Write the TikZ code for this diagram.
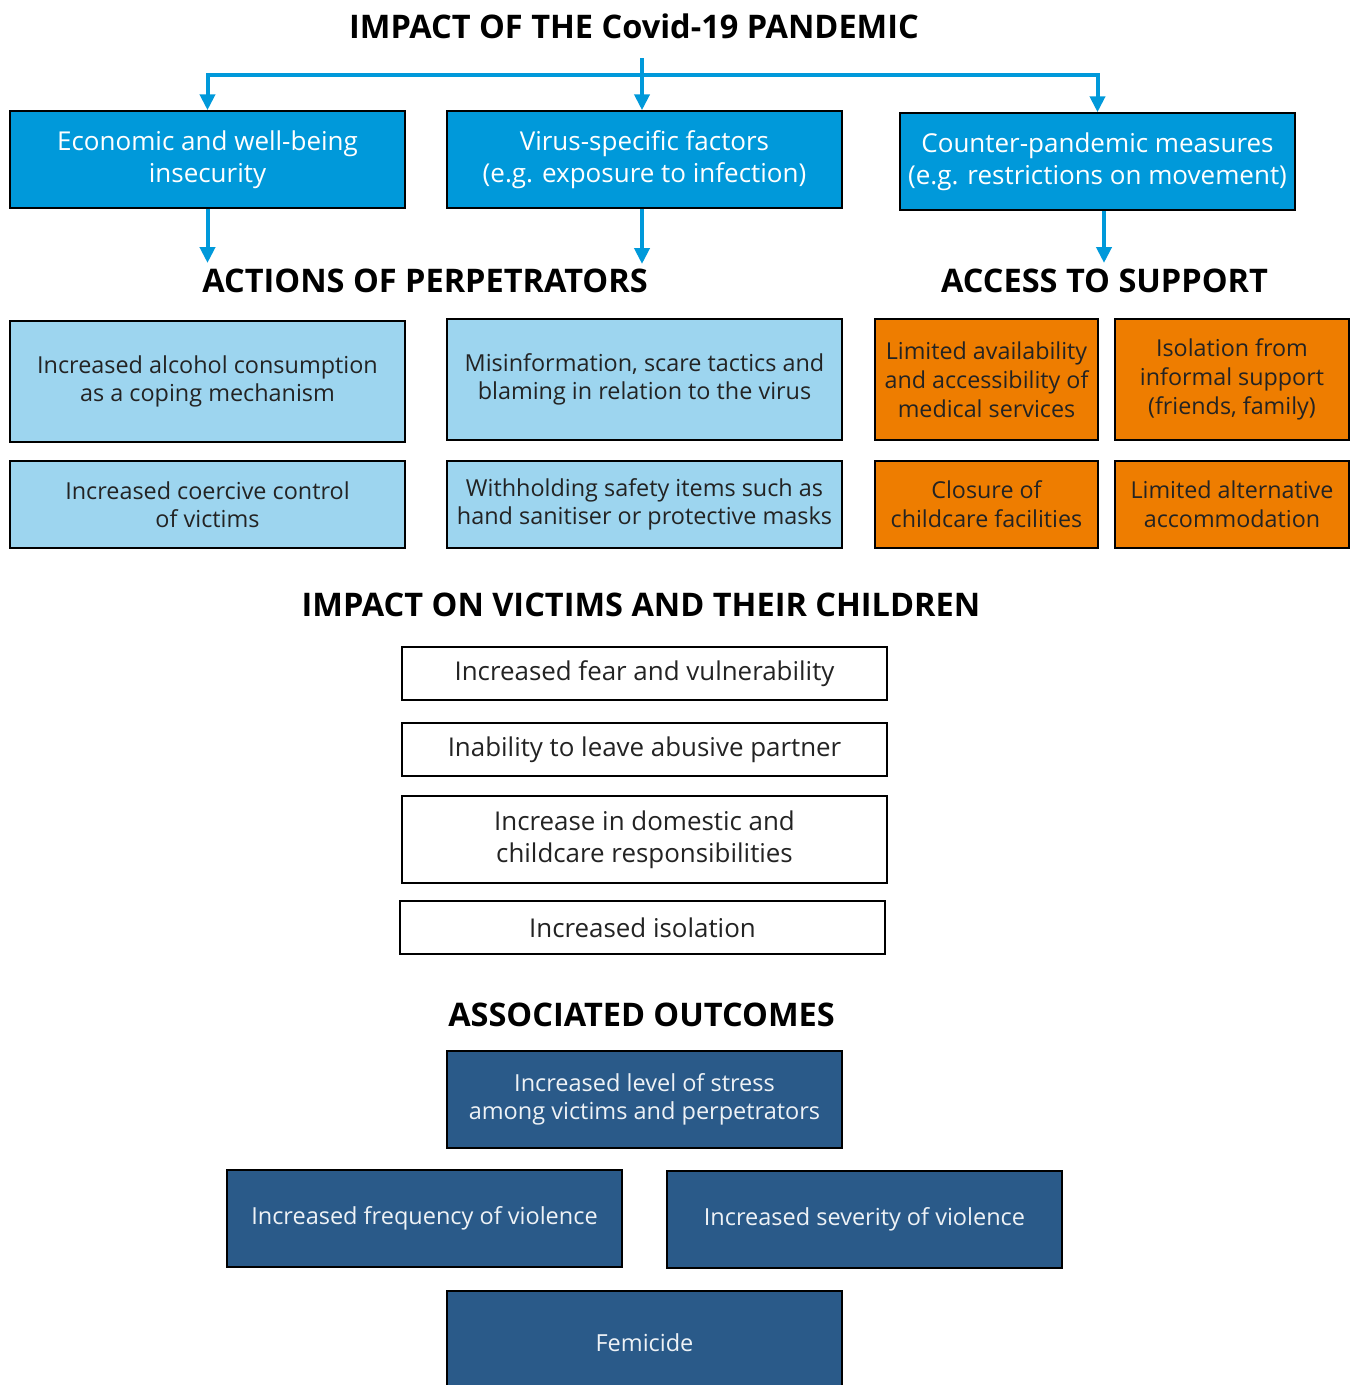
\documentclass[tikz,border=0pt]{standalone}
\usepackage{fontspec}
\setmainfont{Open Sans}
\usetikzlibrary{arrows.meta}
\definecolor{topblue}{RGB}{0,153,218}
\definecolor{lightblue}{RGB}{157,213,239}
\definecolor{orangebox}{RGB}{238,125,0}
\definecolor{darkblue}{RGB}{42,90,137}
\definecolor{darktext}{RGB}{35,35,35}
\tikzset{
  boxbase/.style={draw=black, line width=1.5pt, inner sep=0pt, align=center},
  topbox/.style={boxbase, fill=topblue, text=white, font=\fontsize{26}{32}\selectfont},
  actbox/.style={boxbase, fill=lightblue, text=darktext, font=\fontsize{23.4}{28.5}\selectfont},
  supbox/.style={boxbase, fill=orangebox, text=darktext, font=\fontsize{23.3}{29}\selectfont},
  vicbox/.style={boxbase, fill=white, text=darktext, font=\fontsize{25.9}{32}\selectfont},
  outbox/.style={boxbase, fill=darkblue, text=white!92!darkblue, font=\fontsize{23.5}{28}\selectfont},
  heading/.style={anchor=base, inner sep=0pt, font=\fontsize{32.5}{38}\selectfont\bfseries},
  conn/.style={draw=topblue, line width=4pt},
  arr/.style={conn, -{Triangle[width=15pt,length=16pt]}},
}
\begin{document}
\begin{tikzpicture}[x=1pt,y=-1pt]
\useasboundingbox (0,0) rectangle (1354,1385);

% headings
\node[heading] (t1) at (634,38) {IMPACT OF THE Covid-19 PANDEMIC};
\node[heading] (t2) at (425,292) {ACTIONS OF PERPETRATORS};
\node[heading] (t3) at (1104.5,292) {ACCESS TO SUPPORT};
\node[heading] (t4) at (641,616) {IMPACT ON VICTIMS AND THEIR CHILDREN};
\node[heading] (t5) at (641.5,1026) {ASSOCIATED OUTCOMES};

% top row
\node[topbox, minimum width=395, minimum height=97] (a) at (207.5,159.5) {Economic and well-being\\insecurity};
\node[topbox, minimum width=395, minimum height=97] (b) at (644.5,159.5) {Virus-specific factors\\(e.g. exposure to infection)};
\node[topbox, minimum width=395, minimum height=97] (c) at (1097.5,161.5) {Counter-pandemic measures\\(e.g. restrictions on movement)};

% actions of perpetrators
\node[actbox, minimum width=395, minimum height=121] (d) at (207.5,381.5) {Increased alcohol consumption\\as a coping mechanism};
\node[actbox, minimum width=395, minimum height=121] (e) at (644.5,379.5) {Misinformation, scare tactics and\\blaming in relation to the virus};
\node[actbox, minimum width=395, minimum height=87] (f) at (207.5,504.5) {Increased coercive control\\of victims};
\node[actbox, minimum width=395, minimum height=87] (g) at (644.5,504.5) {Withholding safety items such as\\hand sanitiser or protective masks};

% access to support
\node[supbox, minimum width=223, minimum height=121] (h) at (986.5,379.5) {Limited availability\\and accessibility of\\medical services};
\node[supbox, minimum width=234, minimum height=121] (i) at (1232,379.5) {Isolation from\\informal support\\(friends, family)};
\node[supbox, minimum width=223, minimum height=87] (j) at (986.5,504.5) {Closure of\\childcare facilities};
\node[supbox, minimum width=234, minimum height=87] (k) at (1232,504.5) {Limited alternative\\accommodation};

% impact on victims
\node[vicbox, minimum width=485, minimum height=53] (l) at (644.5,673.5) {\raisebox{3pt}{Increased fear and vulnerability}};
\node[vicbox, minimum width=485, minimum height=53] (m) at (644.5,749.5) {\raisebox{2pt}{Inability to leave abusive partner}};
\node[vicbox, minimum width=485, minimum height=87] (n) at (644.5,839.5) {Increase in domestic and\\childcare responsibilities};
\node[vicbox, minimum width=485, minimum height=53] (o) at (642.5,927.5) {Increased isolation};

% outcomes
\node[outbox, minimum width=395, minimum height=97] (p) at (644.5,1099.5) {Increased level of stress\\among victims and perpetrators};
\node[outbox, minimum width=395, minimum height=97] (q) at (424.5,1218.5) {Increased frequency of violence};
\node[outbox, minimum width=395, minimum height=97] (r) at (864.5,1219.5) {Increased severity of violence};
\node[outbox, minimum width=395, minimum height=109] (s) at (644.5,1345.5) {\raisebox{6pt}{Femicide}};

% connectors
\coordinate (src) at (642,58);
\coordinate (jn) at (642,75);
\draw[conn] (src) -- (jn);
\draw[conn] (207.5,75) -- (1097.5,75);
\draw[arr] (jn) -| (a.north);
\draw[arr] (jn) -- (b.north -| jn);
\draw[arr] (jn) -| (c.north);

\coordinate (ea) at (207.5,263);
\coordinate (eb) at (642,264);
\coordinate (ec) at (1104,263);
\draw[arr] (a.south) -- (ea);
\draw[arr] (b.south -| eb) -- (eb);
\draw[arr] (c.south -| ec) -- (ec);
\end{tikzpicture}
\end{document}
